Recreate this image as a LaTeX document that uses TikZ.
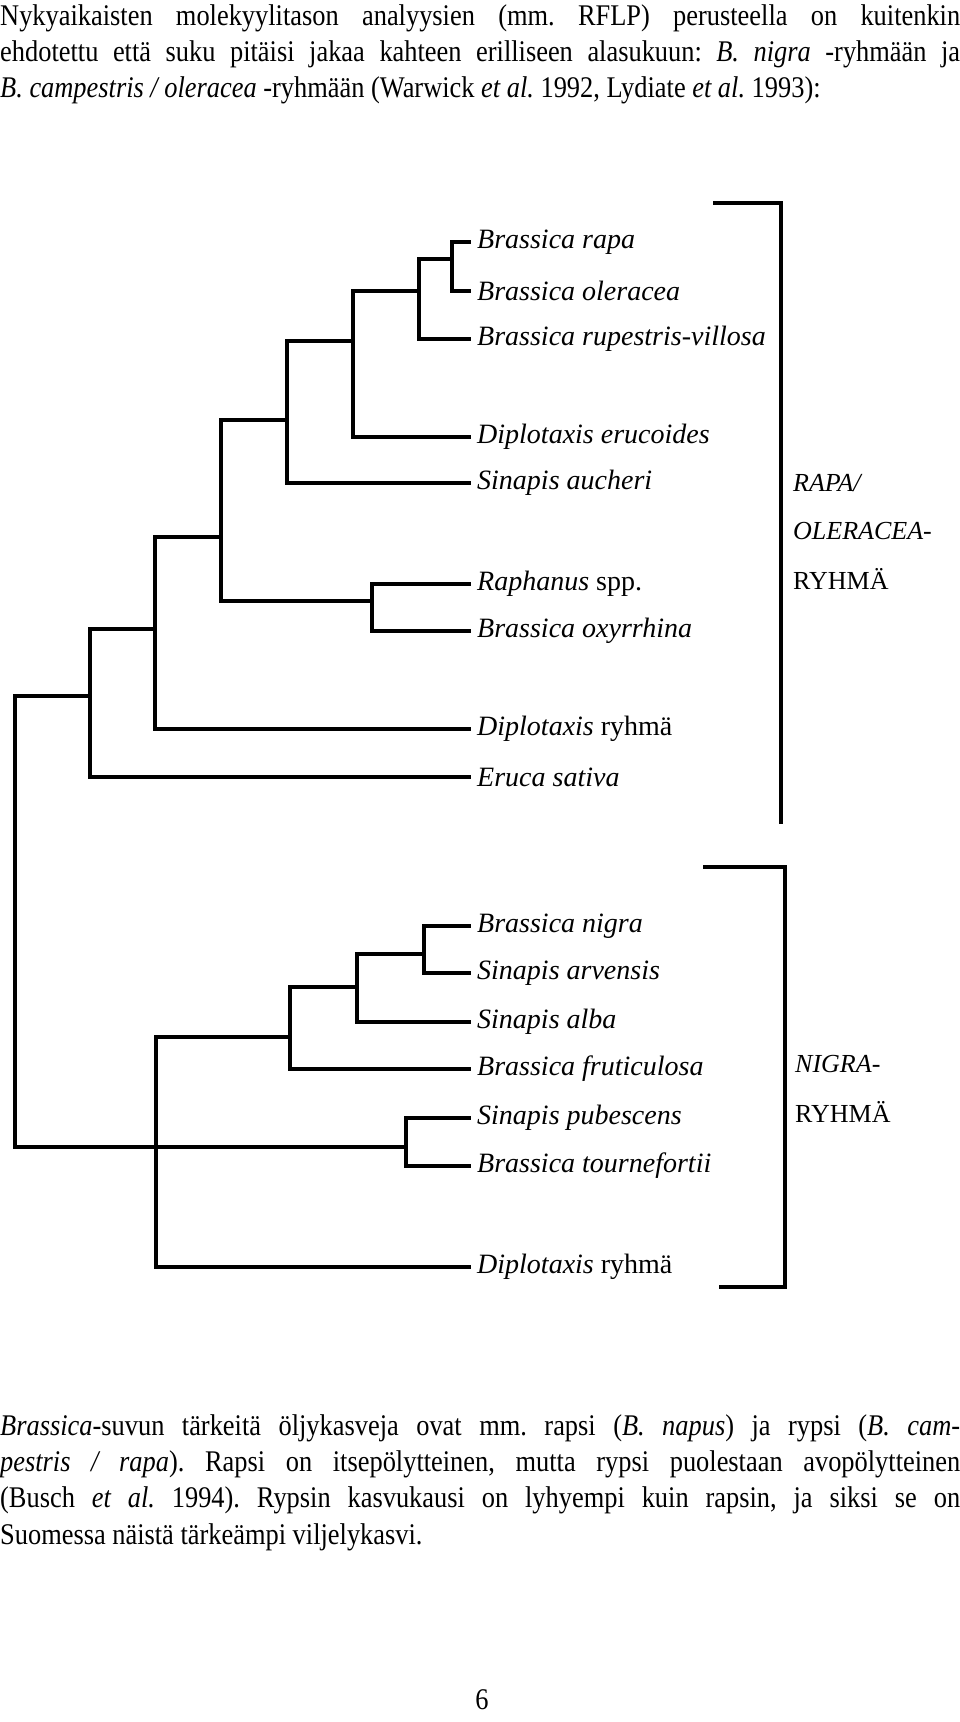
\documentclass[tikz,border=0pt]{standalone}
\usepackage{fontspec}
\usetikzlibrary{positioning}
\newfontfamily\bodyfont[FakeStretch=0.88]{Liberation Serif}
\newfontfamily\labelfont{Liberation Serif}
\frenchspacing
\tikzset{leaf/.style={anchor=west, inner sep=8pt, font=\labelfont\fontsize{28}{32}\selectfont\itshape},
         branch/.style={line width=3.2pt, line cap=rect},
         grouplbl/.style={anchor=west, inner sep=0pt, font=\labelfont\fontsize{26}{30}\selectfont},
         bodyline/.style={anchor=west, inner sep=0pt, font=\bodyfont\fontsize{30}{36}\selectfont}}

\begin{document}
\begin{tikzpicture}[x=1pt, y=-1pt]
\useasboundingbox (0,0) rectangle (960,1722);

% Teksti ylhaalla
\node [bodyline] (para1) at (0,18) {\makebox[960pt][s]{Nykyaikaisten molekyylitason analyysien (mm. RFLP) perusteella on kuitenkin}};
\node [bodyline] (para2) at (0,54) {\makebox[960pt][s]{ehdotettu että suku pitäisi jakaa kahteen erilliseen alasukuun: \textit{B. nigra} -ryhmään ja}};
\node [bodyline] (para3) at (0,90) {\textit{B. campestris / oleracea} -ryhmään (Warwick \textit{et al.} 1992, Lydiate \textit{et al.} 1993):};

% Lajit
\node [leaf] (rapa) at (469,242) {Brassica rapa};
\node [leaf] (oleracea) at (469,291) {Brassica oleracea};
\node [leaf] (rupestris) at (469,339) {Brassica rupestris-villosa};
\node [leaf] (erucoides) at (469,437) {Diplotaxis erucoides};
\node [leaf] (aucheri) at (469,483) {Sinapis aucheri};
\node [leaf] (raphanus) at (469,584) {Raphanus \upshape spp.};
\node [leaf] (oxyrrhina) at (469,631) {Brassica oxyrrhina};
\node [leaf] (diplotaxisA) at (469,729) {Diplotaxis \upshape ryhmä};
\node [leaf] (eruca) at (469,777) {Eruca sativa};
\node [leaf] (nigra) at (469,926) {Brassica nigra};
\node [leaf] (arvensis) at (469,973) {Sinapis arvensis};
\node [leaf] (alba) at (469,1022) {Sinapis alba};
\node [leaf] (fruticulosa) at (469,1069) {Brassica fruticulosa};
\node [leaf] (pubescens) at (469,1118) {Sinapis pubescens};
\node [leaf] (tournefortii) at (469,1166) {Brassica tournefortii};
\node [leaf] (diplotaxisB) at (469,1267) {Diplotaxis \upshape ryhmä};

% Haarat
\coordinate (rapaOle) at (452,259);
\coordinate (rapaRup) at (419,291);
\coordinate (rapaEru) at (353,341);
\coordinate (rapaAuc) at (287,420);
\coordinate (rapaRaph) at (221,537);
\coordinate (raphOxy) at (372,601);
\coordinate (rapaDipl) at (155,629);
\coordinate (rapaAll) at (90,696);
\coordinate (nigraArv) at (424,954);
\coordinate (nigraAlba) at (357,987);
\coordinate (nigraFrut) at (290,1037);
\coordinate (nigraAll) at (156,1037);
\coordinate (pubTour) at (406,1147);
\coordinate (root) at (15,1147);

%Yhteydet
\draw [branch] (rapaOle) |- (rapa.west);
\draw [branch] (rapaOle) |- (oleracea.west);
\draw [branch] (rapaRup) |- (rapaOle);
\draw [branch] (rapaRup) |- (rupestris.west);
\draw [branch] (rapaEru) |- (rapaRup);
\draw [branch] (rapaEru) |- (erucoides.west);
\draw [branch] (rapaAuc) |- (rapaEru);
\draw [branch] (rapaAuc) |- (aucheri.west);
\draw [branch] (raphOxy) |- (raphanus.west);
\draw [branch] (raphOxy) |- (oxyrrhina.west);
\draw [branch] (rapaRaph) |- (rapaAuc);
\draw [branch] (rapaRaph) |- (raphOxy);
\draw [branch] (rapaDipl) |- (rapaRaph);
\draw [branch] (rapaDipl) |- (diplotaxisA.west);
\draw [branch] (rapaAll) |- (rapaDipl);
\draw [branch] (rapaAll) |- (eruca.west);
\draw [branch] (nigraArv) |- (nigra.west);
\draw [branch] (nigraArv) |- (arvensis.west);
\draw [branch] (nigraAlba) |- (nigraArv);
\draw [branch] (nigraAlba) |- (alba.west);
\draw [branch] (nigraFrut) |- (nigraAlba);
\draw [branch] (nigraFrut) |- (fruticulosa.west);
\draw [branch] (nigraAll) -- (nigraFrut);
\draw [branch] (nigraAll) |- (diplotaxisB.west);
\draw [branch] (pubTour) |- (pubescens.west);
\draw [branch] (pubTour) |- (tournefortii.west);
\draw [branch] (root) |- (rapaAll);
\draw [branch] (root) -- (pubTour);

% Ryhmat
\draw [branch, line cap=butt] (713,203) -- (781,203) -- (781,824);
\draw [branch, line cap=butt] (703,867) -- (785,867) -- (785,1287) -- (719,1287);
\node [grouplbl] (rapaLbl1) at (793,483) {\itshape RAPA/};
\node [grouplbl] (rapaLbl2) at (793,531) {\itshape OLERACEA-};
\node [grouplbl] (rapaLbl3) at (793,579) {RYHMÄ};
\node [grouplbl] (nigraLbl1) at (795,1064) {\itshape NIGRA-};
\node [grouplbl] (nigraLbl2) at (795,1112) {RYHMÄ};

% Teksti alhaalla
\node [bodyline] (para4) at (0,1428) {\makebox[960pt][s]{\textit{Brassica}-suvun tärkeitä öljykasveja ovat mm. rapsi (\textit{B. napus}) ja rypsi (\textit{B. cam-}}};
\node [bodyline] (para5) at (0,1464) {\makebox[960pt][s]{\textit{pestris / rapa}). Rapsi on itsepölytteinen, mutta rypsi puolestaan avopölytteinen}};
\node [bodyline] (para6) at (0,1500) {\makebox[960pt][s]{(Busch \textit{et al.} 1994). Rypsin kasvukausi on lyhyempi kuin rapsin, ja siksi se on}};
\node [bodyline] (para7) at (0,1537) {Suomessa näistä tärkeämpi viljelykasvi.};
\node [bodyline, anchor=center] (pageno) at (482,1700) {6};
\end{tikzpicture}
\end{document}
